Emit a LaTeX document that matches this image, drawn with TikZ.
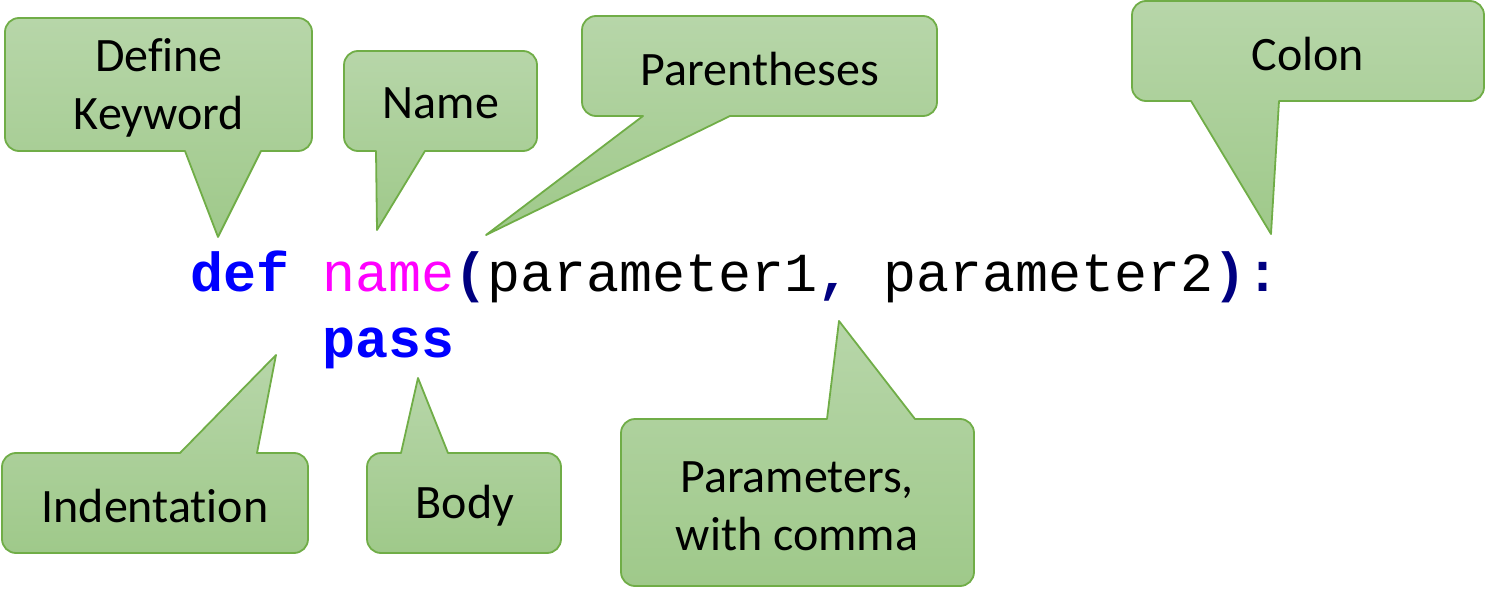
\documentclass[tikz,border=0pt]{standalone}
\usepackage{fontspec}
\setmainfont[Ligatures=NoCommon]{Carlito}
\newfontfamily\codefont{Liberation Mono}
\usetikzlibrary{positioning}
\definecolor{bubbleline}{RGB}{112,173,71}
\definecolor{bubbletop}{RGB}{183,214,169}
\definecolor{bubblebot}{RGB}{159,201,138}
\definecolor{kwblue}{RGB}{0,0,255}
\definecolor{fnpink}{RGB}{255,0,255}
\definecolor{punctnavy}{RGB}{0,0,128}
\newcommand{\kw}[1]{\textcolor{kwblue}{\textbf{#1}}}
\newcommand{\pun}[1]{\textcolor{punctnavy}{\textbf{#1}}}
\tikzstyle{bubble} =[draw=bubbleline, line width=1.8pt, top color=bubbletop, bottom color=bubblebot, line join=round]
\tikzstyle{bubbletext} =[font=\fontsize{48}{58}\selectfont, align=center, inner sep=0pt]
\tikzstyle{code} =[font=\codefont\fontsize{55}{62}\selectfont, inner sep=0pt, anchor=base west]
\begin{document}
\begin{tikzpicture}[x=1pt,y=-1pt]
\useasboundingbox (0,0) rectangle (1486,591);
% callouts above the code
\draw[bubble] (160,18) [rounded corners=14pt] -- (312,18) -- (312,151) [sharp corners] -- (261,151) -- (218,237) -- (185,151) [rounded corners=14pt] -- (5,151) -- (5,18) -- cycle;
\draw[bubble] (440,51) [rounded corners=14pt] -- (537,51) -- (537,151) [sharp corners] -- (425,151) -- (377,230) -- (376,151) [rounded corners=14pt] -- (344,151) -- (344,51) -- cycle;
\draw[bubble] (760,16) [rounded corners=14pt] -- (937,16) -- (937,116) [sharp corners] -- (730,116) -- (486,235) -- (643,116) [rounded corners=14pt] -- (582,116) -- (582,16) -- cycle;
\draw[bubble] (1308,1) [rounded corners=14pt] -- (1484,1) -- (1484,101) [sharp corners] -- (1279,101) -- (1271,234) -- (1191,101) [rounded corners=14pt] -- (1132,101) -- (1132,1) -- cycle;
% callouts below the code
\draw[bubble] (155,553) [rounded corners=14pt] -- (2,553) -- (2,453) [sharp corners] -- (180,453) -- (276,355) -- (257,453) [rounded corners=14pt] -- (308,453) -- (308,553) -- cycle;
\draw[bubble] (464,553) [rounded corners=14pt] -- (367,553) -- (367,453) [sharp corners] -- (401,453) -- (418,378) -- (448,453) [rounded corners=14pt] -- (561,453) -- (561,553) -- cycle;
\draw[bubble] (797,586) [rounded corners=14pt] -- (621,586) -- (621,419) [sharp corners] -- (827,419) -- (839,321) -- (915,419) [rounded corners=14pt] -- (974,419) -- (974,586) -- cycle;
% labels
\node[bubbletext] (defkw) at (159,88) {Define\\Keyword};
\node[bubbletext] (name) at (441,103) {Name};
\node[bubbletext] (parens) at (760,69) {Parentheses};
\node[bubbletext] (colon) at (1308,54) {Colon};
\node[bubbletext] (indent) at (155,506) {Indentation};
\node[bubbletext] (body) at (465,506) {Body};
\node[bubbletext] (params) at (797,506) {Parameters,\\with comma};
% the code
\node[code] (line1) at (190,291) {\kw{def} \textcolor{fnpink}{name}\pun{(}parameter1\pun{,} parameter2\pun{)}\pun{:}};
\node[code] (line2) at (322,357) {\kw{pass}};
\end{tikzpicture}
\end{document}
